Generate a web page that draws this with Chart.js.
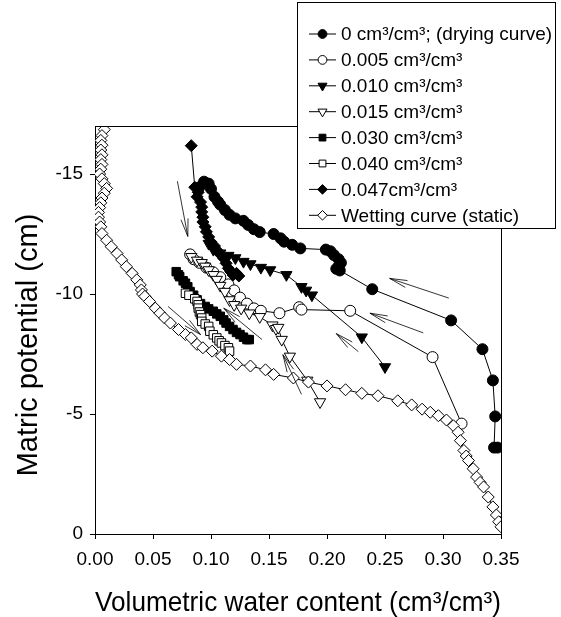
<!DOCTYPE html>
<html>
<head>
<meta charset="utf-8">
<script src="https://cdn.jsdelivr.net/npm/chart.js@4"></script>
<style>
  html, body { margin: 0; padding: 0; background: #fff; }
  #wrap { width: 561px; height: 617px; }
</style>
</head>
<body>
<div id="wrap"><canvas id="chart" width="561" height="617"></canvas></div>
<script>
// Matric potential vs volumetric water content, wetting/drying curves
// Each series: [water content, matric potential]

const seriesLabels = [
  '0 cm³/cm³; (drying curve)',
  '0.005 cm³/cm³',
  '0.010 cm³/cm³',
  '0.015 cm³/cm³',
  '0.030 cm³/cm³',
  '0.040 cm³/cm³',
  '0.047cm³/cm³',
  'Wetting curve (static)'
];

const drying = [
  [0.090, -14.45], [0.094, -14.68], [0.098, -14.60], [0.100, -14.38], [0.103, -14.05],
  [0.106, -13.85], [0.108, -13.72], [0.112, -13.50], [0.116, -13.30], [0.121, -13.15],
  [0.128, -13.05], [0.132, -12.88], [0.137, -12.70], [0.142, -12.58], [0.154, -12.50],
  [0.160, -12.32], [0.163, -12.18], [0.170, -12.05], [0.177, -11.90], [0.199, -11.85],
  [0.203, -11.78], [0.206, -11.62], [0.210, -11.45], [0.212, -11.30], [0.210, -11.15],
  [0.208, -11.05], [0.211, -10.98], [0.239, -10.20], [0.307, -8.90], [0.334, -7.70],
  [0.343, -6.40], [0.345, -4.90], [0.344, -3.60], [0.347, -3.60]
];

const wc005 = [
  [0.082, -11.65], [0.085, -11.45], [0.090, -11.30], [0.096, -11.10], [0.102, -10.90],
  [0.108, -10.70], [0.115, -10.40], [0.120, -10.15], [0.125, -9.85], [0.131, -9.60],
  [0.137, -9.40], [0.143, -9.30], [0.159, -9.20], [0.176, -9.45], [0.178, -9.35],
  [0.220, -9.30], [0.291, -7.37], [0.316, -4.60]
];

const wc010 = [
  [0.098, -12.10], [0.102, -11.85], [0.108, -11.70], [0.115, -11.60], [0.121, -11.50],
  [0.128, -11.35], [0.134, -11.25], [0.143, -11.10], [0.151, -11.00], [0.165, -10.80],
  [0.178, -10.30], [0.182, -10.15], [0.187, -9.95], [0.230, -8.20], [0.250, -6.96]
];

const wc015 = [
  [0.083, -11.55], [0.088, -11.40], [0.092, -11.30], [0.095, -11.15], [0.098, -11.00],
  [0.102, -10.80], [0.105, -10.60], [0.108, -10.35], [0.112, -10.10], [0.116, -9.75],
  [0.120, -9.55], [0.126, -9.40], [0.133, -9.20], [0.142, -9.05], [0.153, -8.70],
  [0.156, -8.55], [0.158, -8.60], [0.161, -8.10], [0.168, -7.40], [0.183, -6.40],
  [0.194, -5.50]
];

const wc030 = [
  [0.070, -10.93], [0.072, -10.80], [0.073, -10.72], [0.076, -10.55], [0.078, -10.45],
  [0.080, -10.30], [0.082, -10.10], [0.085, -9.95], [0.088, -9.76], [0.091, -9.60],
  [0.095, -9.48], [0.098, -9.38], [0.102, -9.28], [0.105, -9.17], [0.108, -9.07],
  [0.111, -8.92], [0.113, -8.79], [0.116, -8.65], [0.119, -8.52], [0.122, -8.40],
  [0.125, -8.31], [0.128, -8.20], [0.131, -8.10], [0.133, -8.10]
];

const wc040 = [
  [0.078, -10.03], [0.081, -9.95], [0.086, -9.80], [0.088, -9.69], [0.089, -9.55],
  [0.089, -9.41], [0.090, -9.25], [0.091, -9.14], [0.092, -9.00], [0.092, -8.86],
  [0.095, -8.75], [0.098, -8.65], [0.099, -8.45], [0.102, -8.30], [0.105, -8.17],
  [0.107, -8.05], [0.109, -7.96], [0.112, -7.85], [0.115, -7.76], [0.116, -7.62]
];

const wc047 = [
  [0.083, -16.18], [0.086, -14.45], [0.089, -14.24], [0.088, -14.05], [0.091, -13.83],
  [0.092, -13.62], [0.092, -13.42], [0.093, -13.20], [0.093, -13.00], [0.095, -12.80],
  [0.096, -12.59], [0.098, -12.38], [0.100, -12.17], [0.103, -12.00], [0.105, -11.83],
  [0.108, -11.65], [0.111, -11.48], [0.113, -11.28], [0.115, -11.07], [0.117, -10.93],
  [0.119, -10.79], [0.122, -10.86], [0.124, -10.75]
];

const wetting = [
  [0.008, -16.85], [0.006, -16.60], [0.005, -16.40], [0.006, -16.20], [0.005, -16.00],
  [0.006, -15.80], [0.005, -15.60], [0.006, -15.40], [0.005, -15.20], [0.004, -15.00],
  [0.006, -14.80], [0.008, -14.60], [0.010, -14.40], [0.008, -14.20], [0.006, -14.00],
  [0.005, -13.80], [0.004, -13.60], [0.003, -13.40], [0.003, -13.20], [0.004, -13.00],
  [0.005, -12.80], [0.006, -12.52], [0.010, -12.24], [0.014, -11.97], [0.019, -11.69],
  [0.023, -11.42], [0.027, -11.14], [0.032, -10.86], [0.036, -10.59], [0.039, -10.38],
  [0.040, -10.17], [0.041, -10.00], [0.043, -9.90], [0.047, -9.69], [0.052, -9.41],
  [0.056, -9.20], [0.060, -9.00], [0.065, -8.79], [0.072, -8.52], [0.078, -8.31],
  [0.083, -8.17], [0.088, -7.90], [0.093, -7.76], [0.101, -7.62], [0.109, -7.41],
  [0.116, -7.27], [0.122, -7.07], [0.134, -7.00], [0.147, -6.84], [0.154, -6.65],
  [0.171, -6.50], [0.184, -6.33], [0.200, -6.17], [0.216, -6.01], [0.230, -5.86],
  [0.244, -5.76], [0.261, -5.55], [0.273, -5.38], [0.282, -5.20], [0.289, -5.07],
  [0.296, -4.93], [0.303, -4.75], [0.309, -4.51], [0.313, -4.24], [0.315, -3.89],
  [0.318, -3.48], [0.320, -3.25], [0.322, -3.06], [0.326, -2.72], [0.329, -2.37],
  [0.332, -2.15], [0.335, -1.96], [0.339, -1.54], [0.343, -1.13], [0.346, -0.79],
  [0.348, -0.51], [0.350, -0.30]
];

// Annotation arrows: [tailX, tailY, headX, headY]
const arrows = [
  [0.071, -14.70, 0.080, -12.40],
  [0.063, -9.48, 0.091, -8.31],
  [0.144, -8.10, 0.111, -9.41],
  [0.178, -5.82, 0.162, -7.47],
  [0.227, -7.60, 0.208, -8.35],
  [0.283, -8.38, 0.237, -9.20],
  [0.305, -9.83, 0.254, -10.65]
];

const xTicks = [0, 0.05, 0.10, 0.15, 0.20, 0.25, 0.30, 0.35];
const yTicks = [-15, -10, -5, 0];

const FONT = '"Liberation Sans", Arial, Helvetica, sans-serif';

// marker style per series
const styles = [
  { pointStyle: 'circle', radius: 5.5, fill: '#000', rotation: 0 },
  { pointStyle: 'circle', radius: 5.5, fill: '#fff', rotation: 0 },
  { pointStyle: 'triangle', radius: 6.5, fill: '#000', rotation: 180 },
  { pointStyle: 'triangle', radius: 6.5, fill: '#fff', rotation: 180 },
  { pointStyle: 'rect', radius: 6, fill: '#000', rotation: 0 },
  { pointStyle: 'rect', radius: 6, fill: '#fff', rotation: 0 },
  { pointStyle: 'rectRot', radius: 6, fill: '#000', rotation: 0 },
  { pointStyle: 'rectRot', radius: 6, fill: '#fff', rotation: 0 }
];

const allSeries = [drying, wc005, wc010, wc015, wc030, wc040, wc047, wetting];

const datasets = allSeries.map(function (s, i) {
  const st = styles[i];
  return {
    label: seriesLabels[i],
    data: s.map(function (p) { return { x: p[0], y: p[1] }; }),
    showLine: true,
    borderColor: '#000',
    borderWidth: 1,
    backgroundColor: st.fill,
    pointStyle: st.pointStyle,
    pointRadius: st.radius,
    pointRotation: st.rotation,
    pointBackgroundColor: st.fill,
    pointBorderColor: '#000',
    pointBorderWidth: 1,
    tension: 0,
    order: 7 - i
  };
});

// frame, arrows, y title and legend box
const extras = {
  id: 'extras',
  afterDatasetsDraw: function (chart) {
    const ctx = chart.ctx;
    const xs = chart.scales.x, ys = chart.scales.y;
    const a = chart.chartArea;
    ctx.save();
    ctx.strokeStyle = '#000';
    ctx.lineWidth = 1;
    // top and right frame
    ctx.beginPath();
    ctx.moveTo(a.left, Math.round(a.top) + 0.5);
    ctx.lineTo(Math.round(a.right) + 0.5, Math.round(a.top) + 0.5);
    ctx.lineTo(Math.round(a.right) + 0.5, a.bottom);
    ctx.stroke();

    // arrows
    ctx.lineWidth = 0.8;
    arrows.forEach(function (ar) {
      const x1 = xs.getPixelForValue(ar[0]), y1 = ys.getPixelForValue(ar[1]);
      const x2 = xs.getPixelForValue(ar[2]), y2 = ys.getPixelForValue(ar[3]);
      const ang = Math.atan2(y2 - y1, x2 - x1);
      const len = 18, spread = 0.2;
      ctx.beginPath();
      ctx.moveTo(x1, y1);
      ctx.lineTo(x2, y2);
      ctx.moveTo(x2 - len * Math.cos(ang - spread), y2 - len * Math.sin(ang - spread));
      ctx.lineTo(x2, y2);
      ctx.lineTo(x2 - len * Math.cos(ang + spread), y2 - len * Math.sin(ang + spread));
      ctx.stroke();
    });

    // y axis title
    ctx.save();
    ctx.translate(29, 345);
    ctx.rotate(-Math.PI / 2);
    ctx.fillStyle = '#000';
    ctx.font = '29px ' + FONT;
    ctx.textAlign = 'center';
    ctx.textBaseline = 'middle';
    ctx.fillText('Matric potential (cm)', 0, 0);
    ctx.restore();

    // legend box
    const bx = 297.5, by = 2.5, bw = 258, bh = 226;
    ctx.fillStyle = '#fff';
    ctx.fillRect(bx, by, bw, bh);
    ctx.lineWidth = 1;
    ctx.strokeRect(bx, by, bw, bh);
    ctx.font = '19px ' + FONT;
    ctx.textBaseline = 'middle';
    ctx.textAlign = 'left';
    seriesLabels.forEach(function (lab, i) {
      const ry = 34 + i * 25.9;
      ctx.strokeStyle = '#000';
      ctx.lineWidth = 1;
      ctx.beginPath();
      ctx.moveTo(309, ry);
      ctx.lineTo(336, ry);
      ctx.stroke();
      const st = styles[i];
      ctx.fillStyle = st.fill;
      ctx.strokeStyle = '#000';
      Chart.helpers.drawPoint(ctx, {
        pointStyle: st.pointStyle,
        radius: st.radius * 0.8,
        rotation: st.rotation,
        borderWidth: 1
      }, 322.5, ry);
      ctx.fillStyle = '#000';
      ctx.fillText(lab, 341, ry + 1);
    });
    ctx.restore();
  }
};

new Chart(document.getElementById('chart'), {
  type: 'scatter',
  data: { datasets: datasets },
  plugins: [extras],
  options: {
    responsive: false,
    animation: false,
    layout: { padding: { left: 0, top: 126, right: 60, bottom: 0 } },
    plugins: {
      legend: { display: false },
      tooltip: { enabled: false }
    },
    scales: {
      x: {
        type: 'linear',
        min: 0,
        max: 0.35,
        afterFit: function (s) { s.height = 83; },
        afterBuildTicks: function (s) {
          s.ticks = xTicks.map(function (v) { return { value: v }; });
        },
        ticks: {
          color: '#000',
          font: { family: FONT, size: 19 },
          padding: 9,
          maxRotation: 0,
          callback: function (v) { return Number(v).toFixed(2); }
        },
        grid: { drawOnChartArea: false, drawTicks: true, tickLength: 5, color: '#000' },
        border: { display: true, color: '#000', width: 1 },
        title: {
          display: true,
          text: 'Volumetric water content (cm³/cm³)',
          color: '#000',
          font: { family: FONT, size: 28, lineHeight: 1 },
          padding: { top: 0, bottom: 0 }
        }
      },
      y: {
        type: 'linear',
        min: -17,
        max: 0,
        reverse: true,
        afterFit: function (s) { s.width = 95; },
        afterBuildTicks: function (s) {
          s.ticks = yTicks.map(function (v) { return { value: v }; });
        },
        ticks: {
          color: '#000',
          font: { family: FONT, size: 19 },
          padding: 7
        },
        grid: { drawOnChartArea: false, drawTicks: true, tickLength: 5, color: '#000' },
        border: { display: true, color: '#000', width: 1 }
      }
    }
  }
});
</script>
</body>
</html>
